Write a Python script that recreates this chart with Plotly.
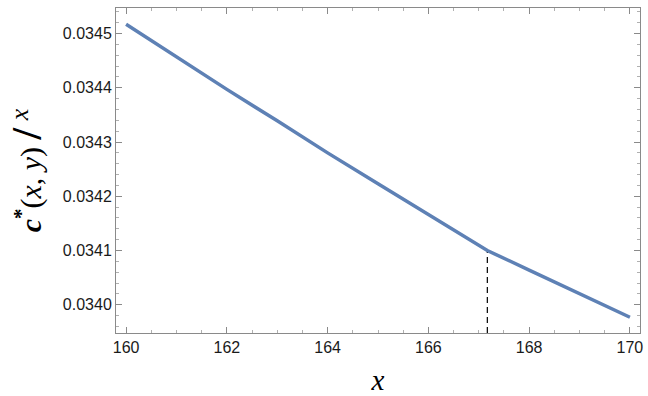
import plotly.graph_objects as go

# data
x_vals = [160, 161, 162, 163, 164, 165, 166, 167, 167.17, 168, 169, 170]
ratio_vals = [0.034517, 0.034457, 0.034397, 0.034339, 0.034280, 0.034223,
              0.034166, 0.034110, 0.034100, 0.034064, 0.034020, 0.033977]
kink_x = 167.17
kink_y = 0.034100

x_range = [159.8, 170.2]
y_range = [0.033948, 0.034547]
x_ticks = [160, 162, 164, 166, 168, 170]
y_ticks = [0.0340, 0.0341, 0.0342, 0.0343, 0.0344, 0.0345]
y_tick_text = ["0.0340", "0.0341", "0.0342", "0.0343", "0.0344", "0.0345"]

fig = go.Figure()
fig.add_trace(go.Scatter(
    x=[kink_x, kink_x], y=[y_range[0], kink_y], mode="lines",
    line=dict(color="black", width=1.2, dash="6px,4px"), hoverinfo="skip", showlegend=False))
fig.add_trace(go.Scatter(
    x=x_vals, y=ratio_vals, mode="lines",
    line=dict(color="#5E81B5", width=3.5), showlegend=False))

frame = "#8a8a8a"
tickfont = dict(family="Liberation Sans, Arial, sans-serif", size=16, color="#1a1a1a")
serif = "Liberation Serif, Times New Roman, serif"

fig.update_layout(
    width=648, height=396,
    margin=dict(l=116, r=5, t=8, b=62),
    paper_bgcolor="white", plot_bgcolor="white",
    xaxis=dict(
        range=x_range, tickvals=x_ticks, ticks="inside", ticklen=6, tickwidth=1,
        tickcolor=frame, showline=True, linecolor=frame, linewidth=1, mirror="allticks",
        showgrid=False, zeroline=False, tickfont=tickfont,
        minor=dict(ticks="inside", dtick=0.5, tick0=160, ticklen=3, tickcolor="#b0b0b0", showgrid=False),
        title=dict(text="<i>x</i>", font=dict(family=serif, size=29, color="black"), standoff=14),
    ),
    yaxis=dict(
        range=y_range, tickvals=y_ticks, ticktext=y_tick_text, ticks="inside", ticklen=6, tickwidth=1,
        tickcolor=frame, showline=True, linecolor=frame, linewidth=1, mirror="allticks",
        showgrid=False, zeroline=False, tickfont=tickfont,
        minor=dict(ticks="inside", dtick=0.00002, tick0=0.034, ticklen=3, tickcolor="#b0b0b0", showgrid=False),
        title=dict(
            text="<b><i>c</i><sup>*</sup></b>(<i>x</i>, <i>y</i>) <span style=\"font-size:42px;font-weight:bold\">/</span> <sup><span style=\"font-size:26px;font-style:italic\">x</span></sup>",
            font=dict(family=serif, size=30, color="black"), standoff=12),
    ),
)

fig.write_html("out.html")
